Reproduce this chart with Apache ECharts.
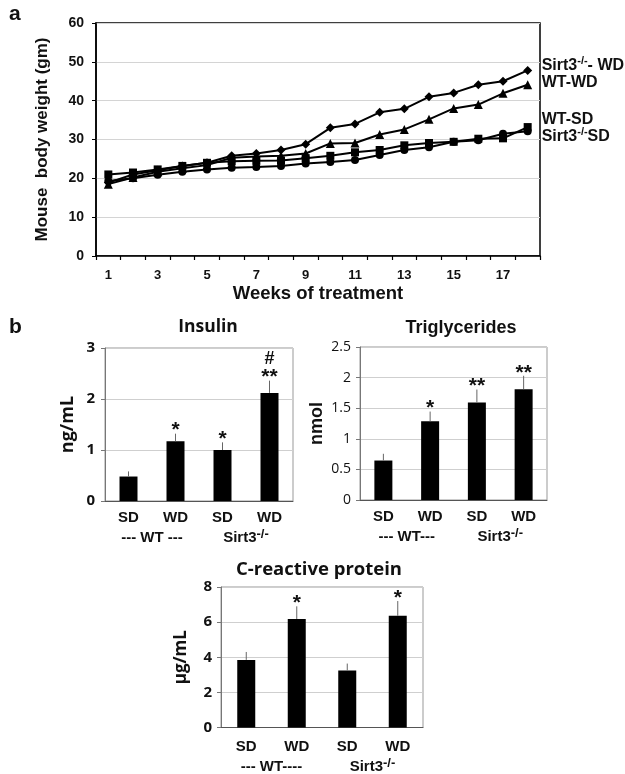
<!DOCTYPE html>
<html><head><meta charset="utf-8">
<script src="https://cdn.jsdelivr.net/npm/echarts@6/dist/echarts.min.js"></script>
<style>html,body{margin:0;padding:0;background:#fff}#c{width:625px;height:774px}</style>
</head><body><div id="c"></div>
<script>
// ---------- Panel a: body weight ----------
const weeks = ['1','2','3','4','5','6','7','8','9','10','11','12','13','14','15','16','17','18'];
const sirt3WD = [18.9, 21.0, 22.1, 23.2, 24.0, 25.8, 26.4, 27.3, 28.8, 33.0, 34.0, 37.0, 37.9, 41.0, 42.0, 44.1, 45.0, 47.8];
const wtWD    = [18.5, 20.2, 21.7, 22.6, 23.4, 25.3, 25.6, 25.8, 26.4, 29.0, 29.1, 31.3, 32.6, 35.2, 38.0, 39.0, 41.9, 44.1];
const wtSD    = [21.0, 21.5, 22.3, 23.2, 24.0, 24.4, 24.5, 24.6, 25.2, 25.8, 26.7, 27.3, 28.5, 29.1, 29.4, 30.2, 30.3, 33.2];
const sirt3SD = [19.3, 20.0, 20.9, 21.7, 22.3, 22.7, 22.9, 23.2, 23.8, 24.2, 24.7, 26.0, 27.3, 28.0, 29.4, 29.8, 31.5, 32.1];

// ---------- Panel b ----------
const barCats = ['SD', 'WD', 'SD', 'WD'];
const insulin    = [0.48, 1.17, 1.00, 2.12];
const insulinErr = [0.10, 0.15, 0.15, 0.24];
const insulinSig = ['', '*', '*', '**'];
const insulinSig2 = ['', '', '', '#'];

const trig    = [0.645, 1.285, 1.595, 1.81];
const trigErr = [0.11, 0.16, 0.21, 0.22];
const trigSig = ['', '*', '**', '**'];

const crp    = [3.85, 6.18, 3.25, 6.36];
const crpErr = [0.45, 0.72, 0.39, 0.84];
const crpSig = ['', '*', '', '*'];

const ARIAL = 'Liberation Sans, Arial, sans-serif';
const CAL = 'Open Sans, sans-serif';

const chart = echarts.init(document.getElementById('c'), null, {renderer: 'canvas'});

const grid = [
  {left: 96, top: 23, width: 444, height: 233, show: true, borderColor: '#000', borderWidth: 1.5, backgroundColor: 'transparent'},
  {left: 105, top: 348, width: 188, height: 153, show: true, borderColor: '#999', borderWidth: 1, backgroundColor: 'transparent'},
  {left: 360, top: 347, width: 187, height: 153, show: true, borderColor: '#999', borderWidth: 1, backgroundColor: 'transparent'},
  {left: 221, top: 587, width: 202, height: 147, show: true, borderColor: '#999', borderWidth: 1, backgroundColor: 'transparent'}
];

const supRich = {
  b: {fontFamily: ARIAL, fontWeight: 'bold', fontSize: 15, color: '#111', lineHeight: 20},
  s: {fontFamily: ARIAL, fontWeight: 'bold', fontSize: 13, color: '#111', verticalAlign: 'top', lineHeight: 13}
};

function catAxis(gi, labelMargin) {
  return {
    type: 'category', gridIndex: gi, data: barCats, position: 'bottom',
    axisLine: {show: true, lineStyle: {color: '#555', width: 1}},
    axisTick: {show: false},
    axisLabel: {fontFamily: ARIAL, fontWeight: 'bold', fontSize: 15, color: '#111', margin: labelMargin}
  };
}
function groupAxis(gi, wtLabel, off) {
  return {
    type: 'category', gridIndex: gi, data: [wtLabel, 'Sirt3'], position: 'bottom', offset: off,
    axisLine: {show: false}, axisTick: {show: false}, splitLine: {show: false},
    axisLabel: {
      margin: 8,
      formatter: function (v) { return v === 'Sirt3' ? '{b|Sirt3}{s|-/-}' : '{b|' + v + '}'; },
      rich: supRich
    }
  };
}

const xAxis = [
  {
    type: 'category', gridIndex: 0, data: weeks, boundaryGap: true,
    axisLine: {show: true, lineStyle: {color: '#000', width: 1.5}},
    axisTick: {show: true, interval: 0, length: 4, lineStyle: {color: '#000', width: 1.2}},
    axisLabel: {interval: 1, fontFamily: ARIAL, fontWeight: 'bold', fontSize: 13, color: '#111', margin: 13},
    name: 'Weeks of treatment', nameLocation: 'middle', nameGap: 28,
    nameTextStyle: {fontFamily: ARIAL, fontWeight: 'bold', fontSize: 18.5, color: '#111'}
  },
  catAxis(1, 9), groupAxis(1, '--- WT ---', 19),
  catAxis(2, 9), groupAxis(2, '--- WT---', 19),
  catAxis(3, 12), groupAxis(3, '--- WT----', 21)
];

const yAxis = [
  {
    type: 'value', gridIndex: 0, min: 0, max: 60, interval: 10,
    axisLine: {show: true, lineStyle: {color: '#000', width: 1.5}},
    axisTick: {show: true, length: 4, lineStyle: {color: '#000'}},
    splitLine: {show: true, lineStyle: {color: '#d4d4d4', width: 1}},
    axisLabel: {fontFamily: ARIAL, fontWeight: 'bold', fontSize: 14, color: '#111', margin: 12},
    name: 'Mouse  body weight (gm)', nameLocation: 'middle', nameGap: 45,
    nameTextStyle: {fontFamily: ARIAL, fontWeight: 'bold', fontSize: 17, color: '#111'}
  },
  {
    type: 'value', gridIndex: 1, min: 0, max: 3, interval: 1,
    axisLine: {show: true, lineStyle: {color: '#777'}},
    axisTick: {show: true, length: 4, lineStyle: {color: '#777'}},
    splitLine: {show: true, lineStyle: {color: '#cfcfcf'}},
    axisLabel: {fontFamily: CAL, fontWeight: 'bold', fontSize: 15, color: '#111', margin: 10},
    name: 'ng/mL', nameLocation: 'middle', nameGap: 28,
    nameTextStyle: {fontFamily: CAL, fontWeight: 'bold', fontSize: 18, color: '#111'}
  },
  {
    type: 'value', gridIndex: 2, min: 0, max: 2.5, interval: 0.5,
    axisLine: {show: true, lineStyle: {color: '#777'}},
    axisTick: {show: true, length: 4, lineStyle: {color: '#777'}},
    splitLine: {show: true, lineStyle: {color: '#cfcfcf'}},
    axisLabel: {fontFamily: CAL, fontSize: 14, color: '#111', margin: 9},
    name: 'nmol', nameLocation: 'middle', nameGap: 34,
    nameTextStyle: {fontFamily: ARIAL, fontWeight: 'bold', fontSize: 18, color: '#111'}
  },
  {
    type: 'value', gridIndex: 3, min: 0, max: 8, interval: 2,
    axisLine: {show: true, lineStyle: {color: '#777'}},
    axisTick: {show: true, length: 4, lineStyle: {color: '#777'}},
    splitLine: {show: true, lineStyle: {color: '#cfcfcf'}},
    axisLabel: {fontFamily: CAL, fontWeight: 'bold', fontSize: 15, color: '#111', margin: 9},
    name: 'μg/mL', nameLocation: 'middle', nameGap: 31,
    nameTextStyle: {fontFamily: CAL, fontWeight: 'bold', fontSize: 17, color: '#111'}
  }
];

const endRich = {
  b: {fontFamily: ARIAL, fontWeight: 'bold', fontSize: 16, color: '#111', lineHeight: 20},
  s: {fontFamily: ARIAL, fontWeight: 'bold', fontSize: 11, color: '#111', verticalAlign: 'top', lineHeight: 11}
};
function lineSeries(name, data, symbol, size, labelText, dy) {
  return {
    type: 'line', name: name, data: data, xAxisIndex: 0, yAxisIndex: 0,
    symbol: symbol, symbolSize: size, showSymbol: true,
    lineStyle: {color: '#000', width: 2}, itemStyle: {color: '#000'},
    endLabel: {show: true, formatter: labelText, rich: endRich, distance: 0, offset: [14, dy]},
    z: 3
  };
}

function errSeries(xi, yi, vals, errs, sig, sig2) {
  return {
    type: 'custom', xAxisIndex: xi, yAxisIndex: yi, z: 4,
    data: vals.map(function (v, i) { return [i, v, errs[i]]; }),
    renderItem: function (params, api) {
      const i = params.dataIndex;
      const x = api.value(0), v = api.value(1), e = api.value(2);
      const p0 = api.coord([x, v]);
      const p1 = api.coord([x, v + e]);
      const kids = [{
        type: 'line', shape: {x1: p0[0], y1: p0[1], x2: p1[0], y2: p1[1]},
        style: {stroke: '#666', lineWidth: 1}
      }];
      if (sig[i]) kids.push({type: 'text', style: {text: sig[i], x: p1[0], y: p1[1] - 3, align: 'center', verticalAlign: 'middle', font: 'bold 21px Liberation Sans, Arial, sans-serif', fill: '#111'}});
      if (sig2 && sig2[i]) kids.push({type: 'text', style: {text: sig2[i], x: p1[0], y: p1[1] - 22, align: 'center', verticalAlign: 'middle', font: 'bold 18px Liberation Sans, Arial, sans-serif', fill: '#111'}});
      return {type: 'group', children: kids};
    }
  };
}
function barSeries(xi, yi, vals) {
  return {type: 'bar', xAxisIndex: xi, yAxisIndex: yi, data: vals, barWidth: 18, itemStyle: {color: '#000'}, z: 3};
}

const series = [
  lineSeries('Sirt3-/- WD', sirt3WD, 'diamond', 9, '{b|Sirt3}{s|-/-}{b|- WD}', -4.5),
  lineSeries('WT-WD', wtWD, 'triangle', 9, '{b|WT-WD}', -2),
  lineSeries('WT-SD', wtSD, 'rect', 8, '{b|WT-SD}', -7),
  lineSeries('Sirt3-/-SD', sirt3SD, 'circle', 8, '{b|Sirt3}{s|-/-}{b|SD}', 5.5),
  barSeries(1, 1, insulin), errSeries(1, 1, insulin, insulinErr, insulinSig, insulinSig2),
  barSeries(3, 2, trig), errSeries(3, 2, trig, trigErr, trigSig, null),
  barSeries(5, 3, crp), errSeries(5, 3, crp, crpErr, crpSig, null)
];

const title = [
  {text: 'a', left: 4, top: -1, textStyle: {fontFamily: ARIAL, fontWeight: 'bold', fontSize: 21, color: '#111'}},
  {text: 'b', left: 4, top: 312, textStyle: {fontFamily: ARIAL, fontWeight: 'bold', fontSize: 21, color: '#111'}},
  {text: 'Insulin', left: 203, top: 313, textAlign: 'center', textStyle: {fontFamily: CAL, fontWeight: 'bold', fontSize: 17.5, color: '#111'}},
  {text: 'Triglycerides', left: 456, top: 314, textAlign: 'center', textStyle: {fontFamily: ARIAL, fontWeight: 'bold', fontSize: 18, color: '#111'}},
  {text: 'C-reactive protein', left: 314, top: 555, textAlign: 'center', textStyle: {fontFamily: CAL, fontWeight: 'bold', fontSize: 18.5, color: '#111'}}
];

chart.setOption({
  animation: false,
  backgroundColor: '#fff',
  title: title,
  grid: grid,
  xAxis: xAxis,
  yAxis: yAxis,
  series: series
});
</script>
</body></html>
